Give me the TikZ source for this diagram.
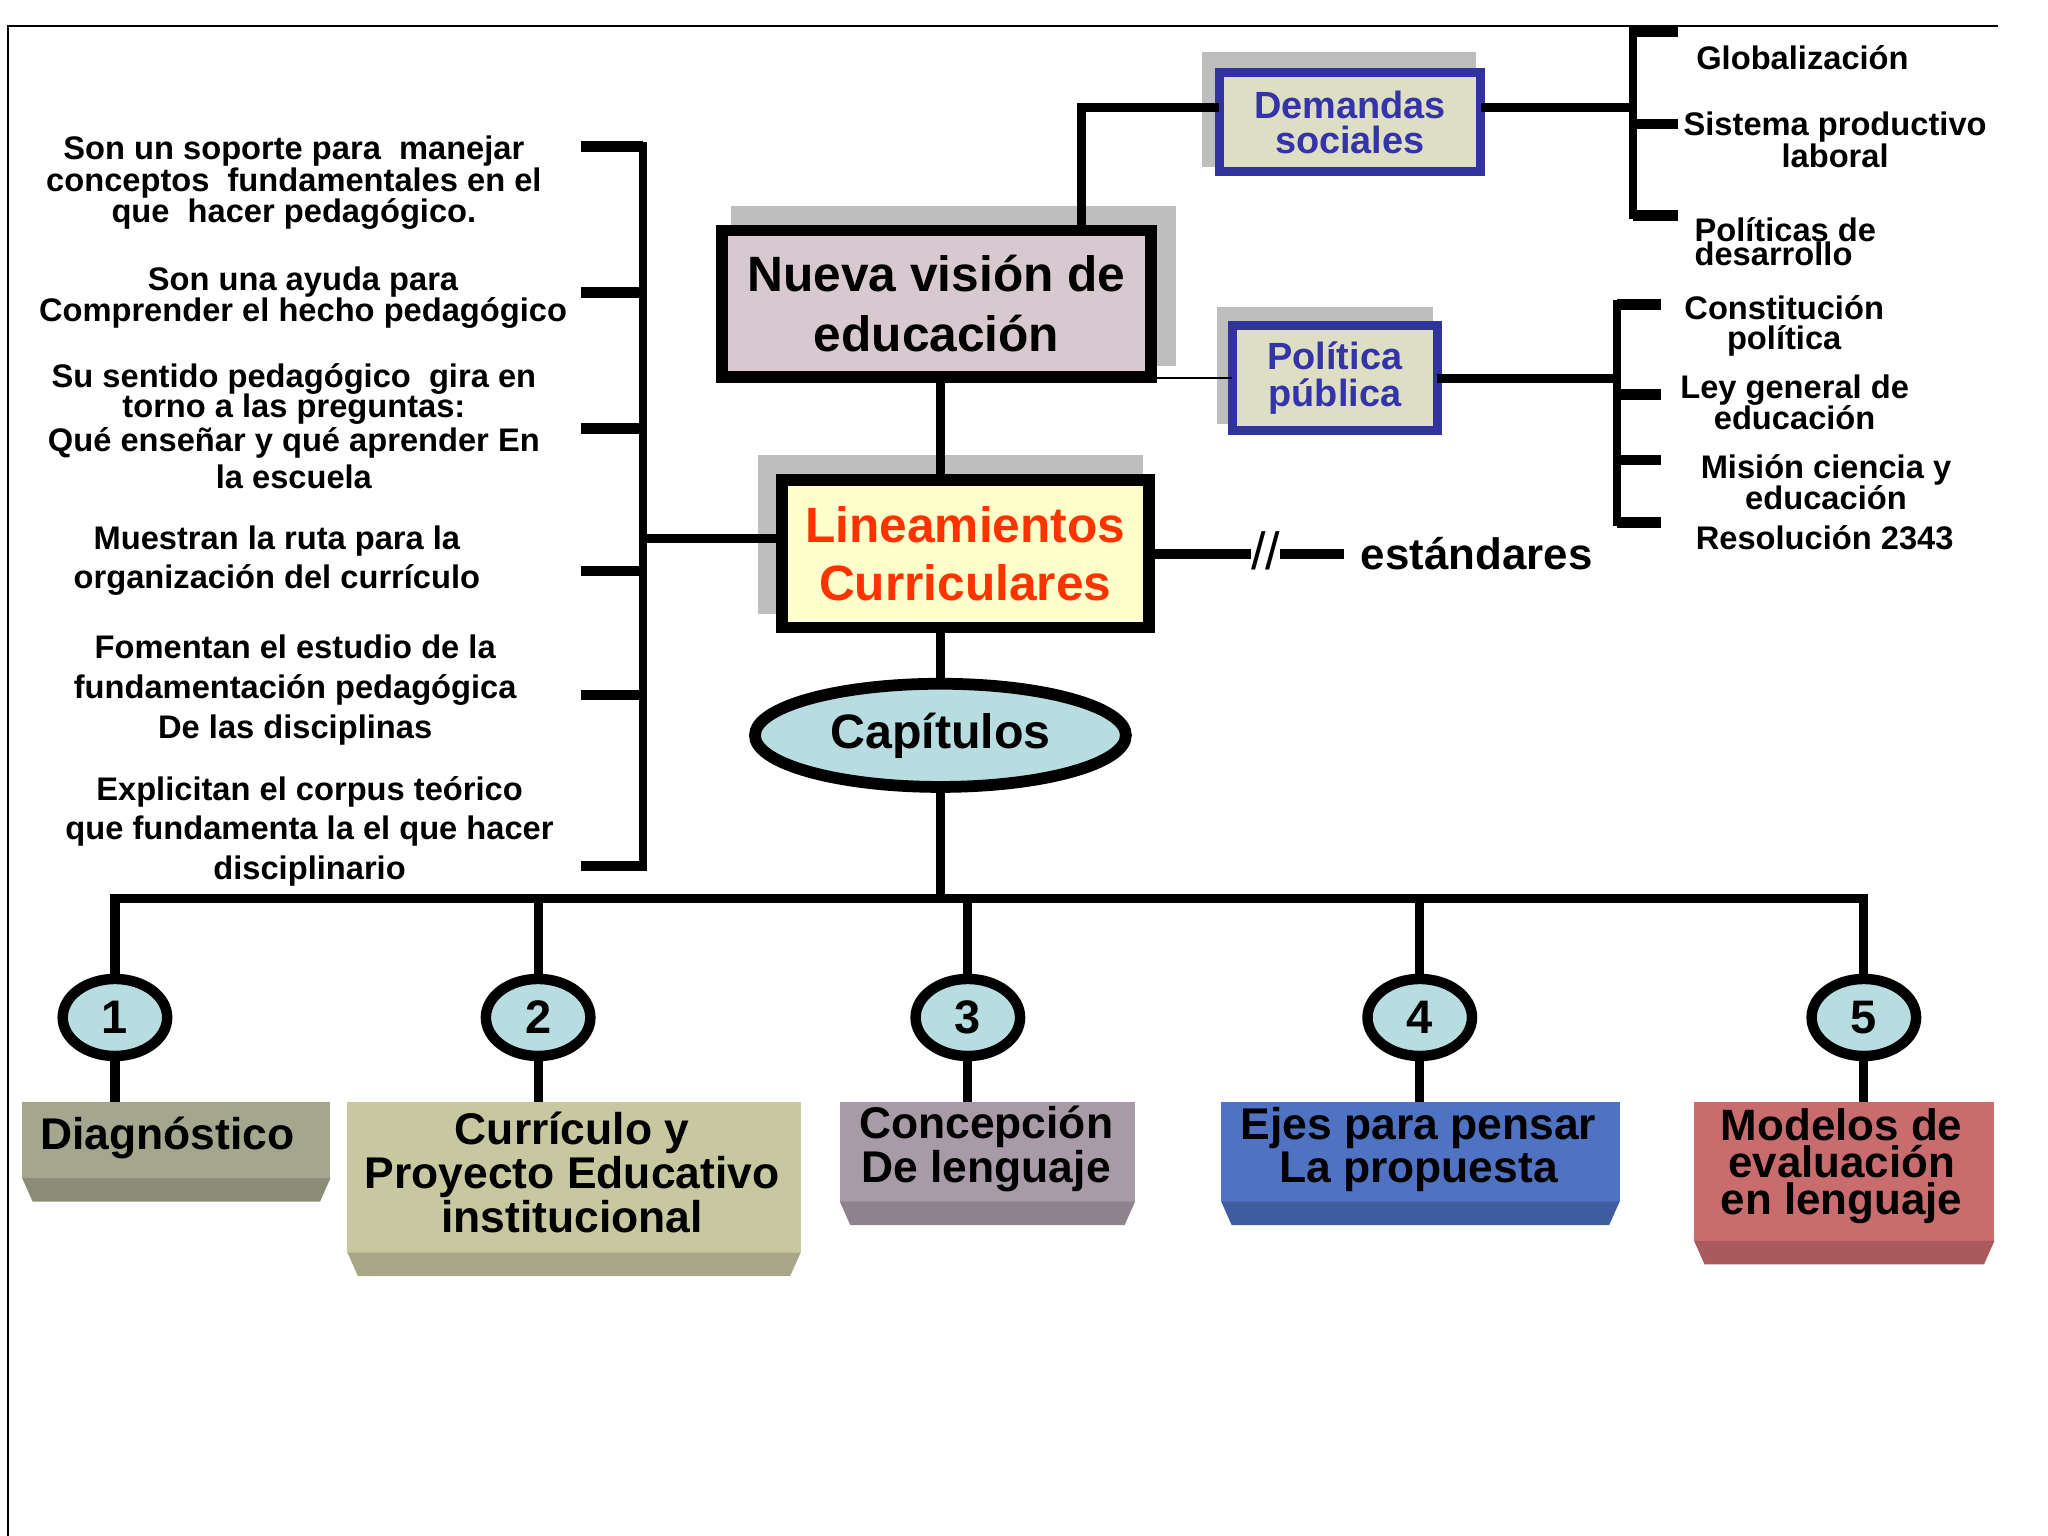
\documentclass[tikz,border=0pt]{standalone}
\usepackage{fontspec}
\setmainfont{Liberation Sans}
\usetikzlibrary{shapes.geometric,calc}
\newcommand\fsz[2]{\fontsize{#1}{#2}\selectfont\bfseries}
\definecolor{nvfill}{RGB}{216,200,208}
\definecolor{linfill}{RGB}{255,255,204}
\definecolor{capfill}{RGB}{184,221,224}
\definecolor{khaki}{RGB}{222,222,196}
\definecolor{bordblue}{RGB}{51,51,160}
\definecolor{txtblue}{RGB}{51,51,170}
\definecolor{redtxt}{RGB}{255,51,0}
\definecolor{shadowgray}{RGB}{190,190,190}
\definecolor{bAm}{RGB}{165,166,142}\definecolor{bAd}{RGB}{139,140,118}
\definecolor{bBm}{RGB}{200,200,160}\definecolor{bBd}{RGB}{168,168,136}
\definecolor{bCm}{RGB}{168,154,166}\definecolor{bCd}{RGB}{142,130,140}
\definecolor{bDm}{RGB}{79,114,194}\definecolor{bDd}{RGB}{62,92,160}
\definecolor{bEm}{RGB}{200,108,110}\definecolor{bEd}{RGB}{168,90,92}
\begin{document}
\begin{tikzpicture}[x=0.5pt,y=-0.5pt,
 txt/.style={align=center, inner sep=0pt, font=\fsz{12.5}{12}},
 bigbox/.style={draw=black, line width=4.5pt, inner sep=0pt, outer sep=0pt, align=center},
 bluebox/.style={draw=bordblue, line width=3.5pt, fill=khaki, inner sep=0pt, outer sep=0pt, align=center, text=txtblue, font=\fsz{14.5}{13.5}},
 conn/.style={line width=3.5pt},
 vbar/.style={line width=3pt},
 tickline/.style={line width=4pt},
 numc/.style={ellipse, draw, line width=4pt, fill=capfill, minimum width=40pt, minimum height=29.5pt, inner sep=0pt, outer sep=0pt, font=\fsz{18}{18}},
 chapbox/.style={inner sep=0pt, outer sep=0pt},
 chaptxt/.style={inner sep=0pt, align=center, font=\fsz{17}{15.5}},
]
\useasboundingbox (0,0) rectangle (1568,1176);
\draw[line width=0.8pt] (6,1176) -- (6,20) -- (1530,20);

% shadows
\fill[shadowgray] (560,158) rectangle (900,280);
\fill[shadowgray] (920,40) rectangle (1130,128);
\fill[shadowgray] (932,235) rectangle (1097,325);
\fill[shadowgray] (580,348) rectangle (875,470);

% main boxes
\node[bigbox, fill=nvfill, minimum width=164.5pt, minimum height=56pt, font=\fsz{19}{23}] (nv) at (717,232.5) {Nueva visión de\\educación};
\node[bigbox, fill=linfill, text=redtxt, minimum width=140.5pt, minimum height=56.5pt, font=\fsz{19}{22.5}] (lin) at (739,424) {Lineamientos\\Curriculares};
\node[bluebox, minimum width=100pt, minimum height=38pt] (dem) at (1033.5,93.5) {Demandas\\sociales};
\node[bluebox, minimum width=78.5pt, minimum height=40pt, font=\fsz{14.5}{14}] (pol) at (1022,289.5) {Política\\pública};
\node[ellipse, draw, line width=4.5pt, fill=capfill, minimum width=142pt, minimum height=39.5pt, inner sep=0pt, outer sep=0pt, font=\fsz{18.5}{18}] (cap) at (720,563) {Capítulos};

% connectors around main boxes
\draw[conn] (cap.north |- nv.south) -- (cap.north |- lin.north);
\draw[conn] (cap.north |- lin.south) -- (cap.north);
\coordinate (dj) at (828,82);
\draw[conn] (dj |- nv.north) -- (dj) -- (dj -| dem.west);
\draw[line width=0.5pt] (pol.west) -- (pol.west -| nv.east);

% left bracket
\coordinate (lbT) at (492,109);
\coordinate (lbB) at (492,667);
\draw[vbar] (lbT) -- (lbB);
\foreach \yy [count=\i] in {112,224,328,437,532,663} {
  \coordinate (lt\i) at (445,\yy);
  \draw[tickline] (lt\i) -- (lt\i -| lbT);
}
\coordinate (lbJ) at (492,412);
\draw[conn] (lbJ) -- (lbJ -| lin.west);

% left texts
\node[txt] (l1) at (225,140) {Son un soporte para\ \ manejar\\conceptos\ \ fundamentales en el\\que\ \ hacer pedagógico.};
\node[txt] (l2) at (232,228) {Son una ayuda para\\Comprender el hecho pedagógico};
\node[txt, font=\fsz{12.5}{11.75}] (l3) at (225,326) {Su sentido pedagógico\ \ gira en\\torno a las preguntas:\\Qué enseñar y qué aprender En\\[2.3pt]la escuela};
\node[txt, font=\fsz{12.5}{15}] (l4) at (212,429) {Muestran la ruta para la\\organización del currículo};
\node[txt, font=\fsz{12.5}{15.25}] (l5) at (226,528.5) {Fomentan el estudio de la\\fundamentación pedagógica\\De las disciplinas};
\node[txt, font=\fsz{12.5}{15.25}] (l6) at (237,636.5) {Explicitan el corpus teórico\\que fundamenta la el que hacer\\disciplinario};

% right bracket 1
\coordinate (rbT) at (1250,21);
\coordinate (rbB) at (1250,168);
\draw[vbar] (rbT) -- (rbB);
\foreach \yy [count=\i] in {24,95,165} {
  \coordinate (rt\i) at (1285,\yy);
  \draw[tickline] (rt\i) -- (rt\i -| rbT);
}
\draw[conn] (dj -| dem.east) -- (dj -| rbT);
\node[txt] (g1) at (1380,44) {Globalización};
\node[txt] (g2) at (1405,107) {Sistema productivo\\laboral};
\node[txt, align=left, anchor=west, font=\fsz{12.5}{9.5}] (g3) at (1297,185) {Políticas de\\desarrollo};

% right bracket 2
\coordinate (sbT) at (1238,230);
\coordinate (sbB) at (1238,403);
\draw[vbar] (sbT) -- (sbB);
\foreach \yy [count=\i] in {233,302,352,400} {
  \coordinate (st\i) at (1272,\yy);
  \draw[tickline] (st\i) -- (st\i -| sbT);
}
\draw[conn] (pol.east) -- (pol.east -| sbT);
\node[txt, font=\fsz{12.5}{11.5}] (p1) at (1366,249.5) {Constitución\\política};
\node[txt] (p2) at (1374,308) {Ley general de\\educación};
\node[txt] (p3) at (1398,369) {Misión ciencia y\\educación};
\node[txt] (p4) at (1397,412) {Resolución 2343};

% estandares
\node[inner sep=0pt, outer sep=0pt, font=\fontsize{20}{20}\selectfont] (sl) at (969,422) {//};
\node[inner sep=0pt, outer sep=0pt, anchor=west, font=\fsz{16.8}{16}] (est) at (1042,424) {estándares};
\coordinate (estL) at (1029,424);
\draw[line width=4pt] (lin.east) -- (lin.east -| sl.west);
\draw[line width=4pt] (sl.east |- estL) -- (estL);

% number circles
\node[numc] (c1) at (88,779) {1};
\node[numc] (c2) at (412,779) {2};
\node[numc] (c3) at (741,779) {3};
\node[numc] (c4) at (1087,779) {4};
\node[numc] (c5) at (1427,779) {5};

% bus
\coordinate (bus) at (720,688);
\draw[conn] (cap.south) -- (bus);
\draw[conn, line join=miter] (c1.north) -- (c1.north |- bus) -- (c5.north |- bus) -- (c5.north);
\foreach \c in {c2,c3,c4} { \draw[conn] (\c.north |- bus) -- (\c.north); }

% chapter boxes
\node[chapbox, fill=bAm, minimum width=118pt, minimum height=29pt] (b1) at (135,873) {};
\node[chapbox, fill=bBm, minimum width=173.5pt, minimum height=57.5pt] (b2) at (439.5,901.5) {};
\node[chapbox, fill=bCm, minimum width=113pt, minimum height=38pt] (b3) at (756,882) {};
\node[chapbox, fill=bDm, minimum width=152.5pt, minimum height=38pt] (b4) at (1087.5,882) {};
\node[chapbox, fill=bEm, minimum width=115pt, minimum height=53pt] (b5) at (1412,897) {};
\foreach \b/\col in {b1/bAd,b2/bBd,b3/bCd,b4/bDd,b5/bEd} {
  \fill[\col] (\b.south west) -- (\b.south east) -- ++(-8,18) -- ($(\b.south west)+(8,18)$) -- cycle;
}
\node[chaptxt] (t1) at (128,871) {Diagnóstico};
\node[chaptxt] (t2) at (438,898) {Currículo y\\Proyecto Educativo\\institucional};
\node[chaptxt, font=\fsz{17}{14.5}] (t3) at (755,880) {Concepción\\De lenguaje};
\node[chaptxt, font=\fsz{17}{14.5}] (t4) at (1086,880) {Ejes para pensar\\La propuesta};
\node[chaptxt, font=\fsz{16.8}{14.3}] (t5) at (1410,893) {Modelos de\\evaluación\\en lenguaje};
\foreach \i in {1,...,5} { \draw[conn] (c\i.south) -- (c\i.south |- b\i.north); }
\end{tikzpicture}
\end{document}
